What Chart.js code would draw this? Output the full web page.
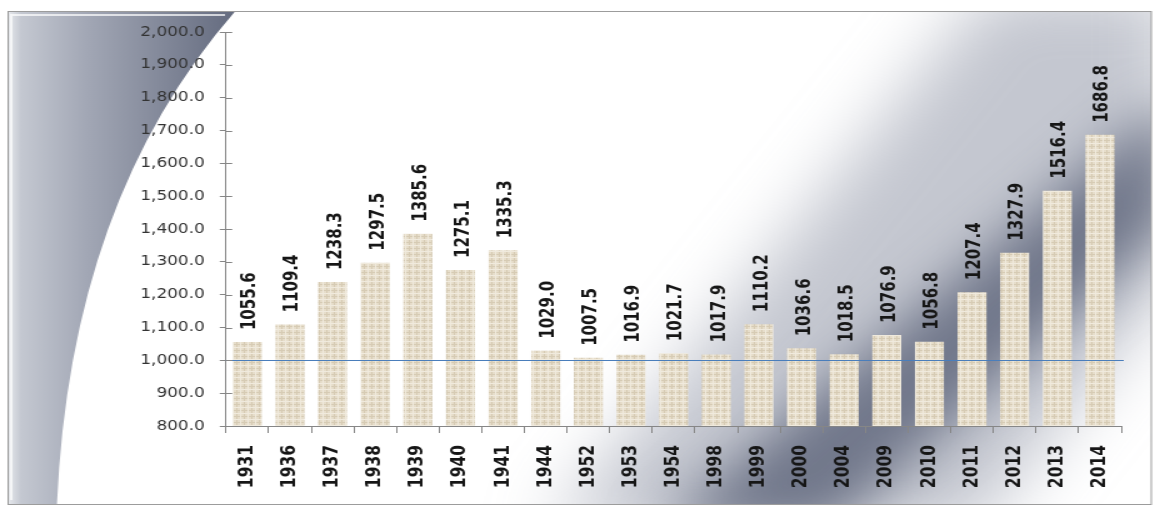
<!DOCTYPE html>
<html>
<head>
<meta charset="utf-8">
<script src="https://cdn.jsdelivr.net/npm/chart.js@4.4.1/dist/chart.umd.min.js"></script>
<style>
  html, body { margin: 0; padding: 0; background: #fff; overflow: hidden; }
  #wrap { width: 1154px; height: 508px; }
  /* the source picture is stretched sideways, so draw narrow and stretch */
  #chart { transform: scaleX(1.25); transform-origin: 0 0; }
</style>
</head>
<body>
<div id="wrap"><canvas id="chart" width="923" height="508"></canvas></div>
<script>
const years = ["1931", "1936", "1937", "1938", "1939", "1940", "1941", "1944", "1952", "1953", "1954",
               "1998", "1999", "2000", "2004", "2009", "2010", "2011", "2012", "2013", "2014"];
const values = [1055.6, 1109.4, 1238.3, 1297.5, 1385.6, 1275.1, 1335.3, 1029.0, 1007.5, 1016.9, 1021.7,
                1017.9, 1110.2, 1036.6, 1018.5, 1076.9, 1056.8, 1207.4, 1327.9, 1516.4, 1686.8];
const refLine = 1000;
const yMin = 800;
const yMax = 2000;
const yStep = 100;

const axisColor = "#868686";

const canvas = document.getElementById("chart");
const ctx = canvas.getContext("2d");

function burlap() {
  const c = document.createElement("canvas");
  c.width = 6; c.height = 6;
  const g = c.getContext("2d");
  g.fillStyle = "#e6ddca"; g.fillRect(0, 0, 6, 6);
  g.fillStyle = "#d6cbb4"; g.fillRect(0, 2, 6, 1); g.fillRect(3, 0, 1, 6);
  g.fillStyle = "#f0eadd"; g.fillRect(0, 5, 6, 1); g.fillRect(0, 0, 1, 6);
  return ctx.createPattern(c, "repeat");
}

function blob(c, pts, fill, blur) {
  c.filter = "blur(" + blur + "px)";
  c.fillStyle = fill;
  c.beginPath();
  pts.forEach((p, i) => (i ? c.lineTo(p[0], p[1]) : c.moveTo(p[0], p[1])));
  c.closePath();
  c.fill();
  c.filter = "none";
}

const backdrop = {
  id: "backdrop",
  beforeDraw(chart) {
    const c = chart.ctx;
    const fx = 6.5, fy = 11.5, fw = 914.5, fh = 493;
    c.save();
    c.beginPath();
    c.rect(fx, fy, fw, fh);
    c.clip();
    c.fillStyle = "#ffffff";
    c.fillRect(fx, fy, fw, fh);

    // soft grey band lower right: wide light layer, then darker core
    blob(c, [[440, 530], [790, -10], [940, -10], [940, 280], [780, 530]], "rgba(138,144,162,0.5)", 30);
    blob(c, [[525, 530], [940, 95], [940, 220], [665, 530]], "rgba(98,105,126,0.85)", 24);

    // grey swoosh on the left
    const gr = c.createLinearGradient(6, 0, 188, 0);
    gr.addColorStop(0, "#e8eaee");
    gr.addColorStop(0.06, "#c4c8d1");
    gr.addColorStop(0.35, "#a2a7b5");
    gr.addColorStop(1, "#646b7f");
    c.fillStyle = gr;
    c.beginPath();
    c.moveTo(fx, fy);
    c.lineTo(188, fy);
    c.quadraticCurveTo(56, 200, 45.5, 506);
    c.lineTo(fx, 506);
    c.closePath();
    c.fill();

    c.strokeStyle = "rgba(255,255,255,0.7)";
    c.lineWidth = 2;
    c.beginPath();
    c.moveTo(9, 500);
    c.lineTo(9, 15);
    c.lineTo(180, 15);
    c.stroke();
    c.restore();

    c.save();
    c.strokeStyle = "#9c9c9c";
    c.lineWidth = 1;
    c.strokeRect(fx, fy, fw, fh);
    c.restore();
  }
};

const extras = {
  id: "extras",
  afterDatasetsDraw(chart) {
    const c = chart.ctx;
    const area = chart.chartArea;
    const y = chart.scales.y;
    const yy = Math.round(y.getPixelForValue(refLine)) + 0.5;
    c.save();
    c.strokeStyle = "#4a7ebb";
    c.lineWidth = 1.2;
    c.beginPath();
    c.moveTo(area.left, yy);
    c.lineTo(area.right + 2, yy);
    c.stroke();

    // inner half of the cross ticks on the value axis
    c.strokeStyle = axisColor;
    c.lineWidth = 1;
    y.ticks.forEach(t => {
      const py = Math.round(y.getPixelForValue(t.value)) + 0.5;
      c.beginPath();
      c.moveTo(area.left, py);
      c.lineTo(area.left + 5, py);
      c.stroke();
    });

    // value labels above the bars
    c.fillStyle = "#161616";
    c.font = "bold 15px 'DejaVu Sans'";
    c.textAlign = "left";
    c.textBaseline = "alphabetic";
    chart.getDatasetMeta(0).data.forEach((bar, i) => {
      c.save();
      c.translate(bar.x + 6.5, bar.y - 12);
      c.rotate(-Math.PI / 2);
      c.fillText(values[i].toFixed(1), 0, 0);
      c.restore();
    });
    c.restore();
  }
};

new Chart(canvas, {
  type: "bar",
  data: {
    labels: years,
    datasets: [{
      data: values,
      backgroundColor: burlap(),
      borderWidth: 0,
      barPercentage: 0.68,
      categoryPercentage: 1
    }]
  },
  options: {
    responsive: false,
    animation: false,
    events: [],
    layout: { padding: { left: 0, right: 26, top: 32, bottom: 0 } },
    plugins: {
      legend: { display: false },
      tooltip: { enabled: false },
      title: { display: false }
    },
    scales: {
      x: {
        afterFit(scale) { scale.height = 82; },
        border: { color: axisColor, width: 1 },
        grid: { drawOnChartArea: false, color: axisColor, tickLength: 7, offset: true },
        ticks: {
          autoSkip: false,
          maxRotation: 90,
          minRotation: 90,
          padding: 12,
          color: "#161616",
          font: { family: "'DejaVu Sans'", size: 15.5, weight: "bold" }
        }
      },
      y: {
        min: yMin,
        max: yMax,
        afterFit(scale) { scale.width = 180.8; },
        border: { color: axisColor, width: 1 },
        grid: { drawOnChartArea: false, color: axisColor, tickLength: 5 },
        ticks: {
          stepSize: yStep,
          padding: 12,
          color: "#333333",
          font: { family: "'DejaVu Sans'", size: 13.5 },
          callback: v => v.toLocaleString("en-US", { minimumFractionDigits: 1, maximumFractionDigits: 1 })
        }
      }
    }
  },
  plugins: [backdrop, extras]
});
</script>
</body>
</html>
